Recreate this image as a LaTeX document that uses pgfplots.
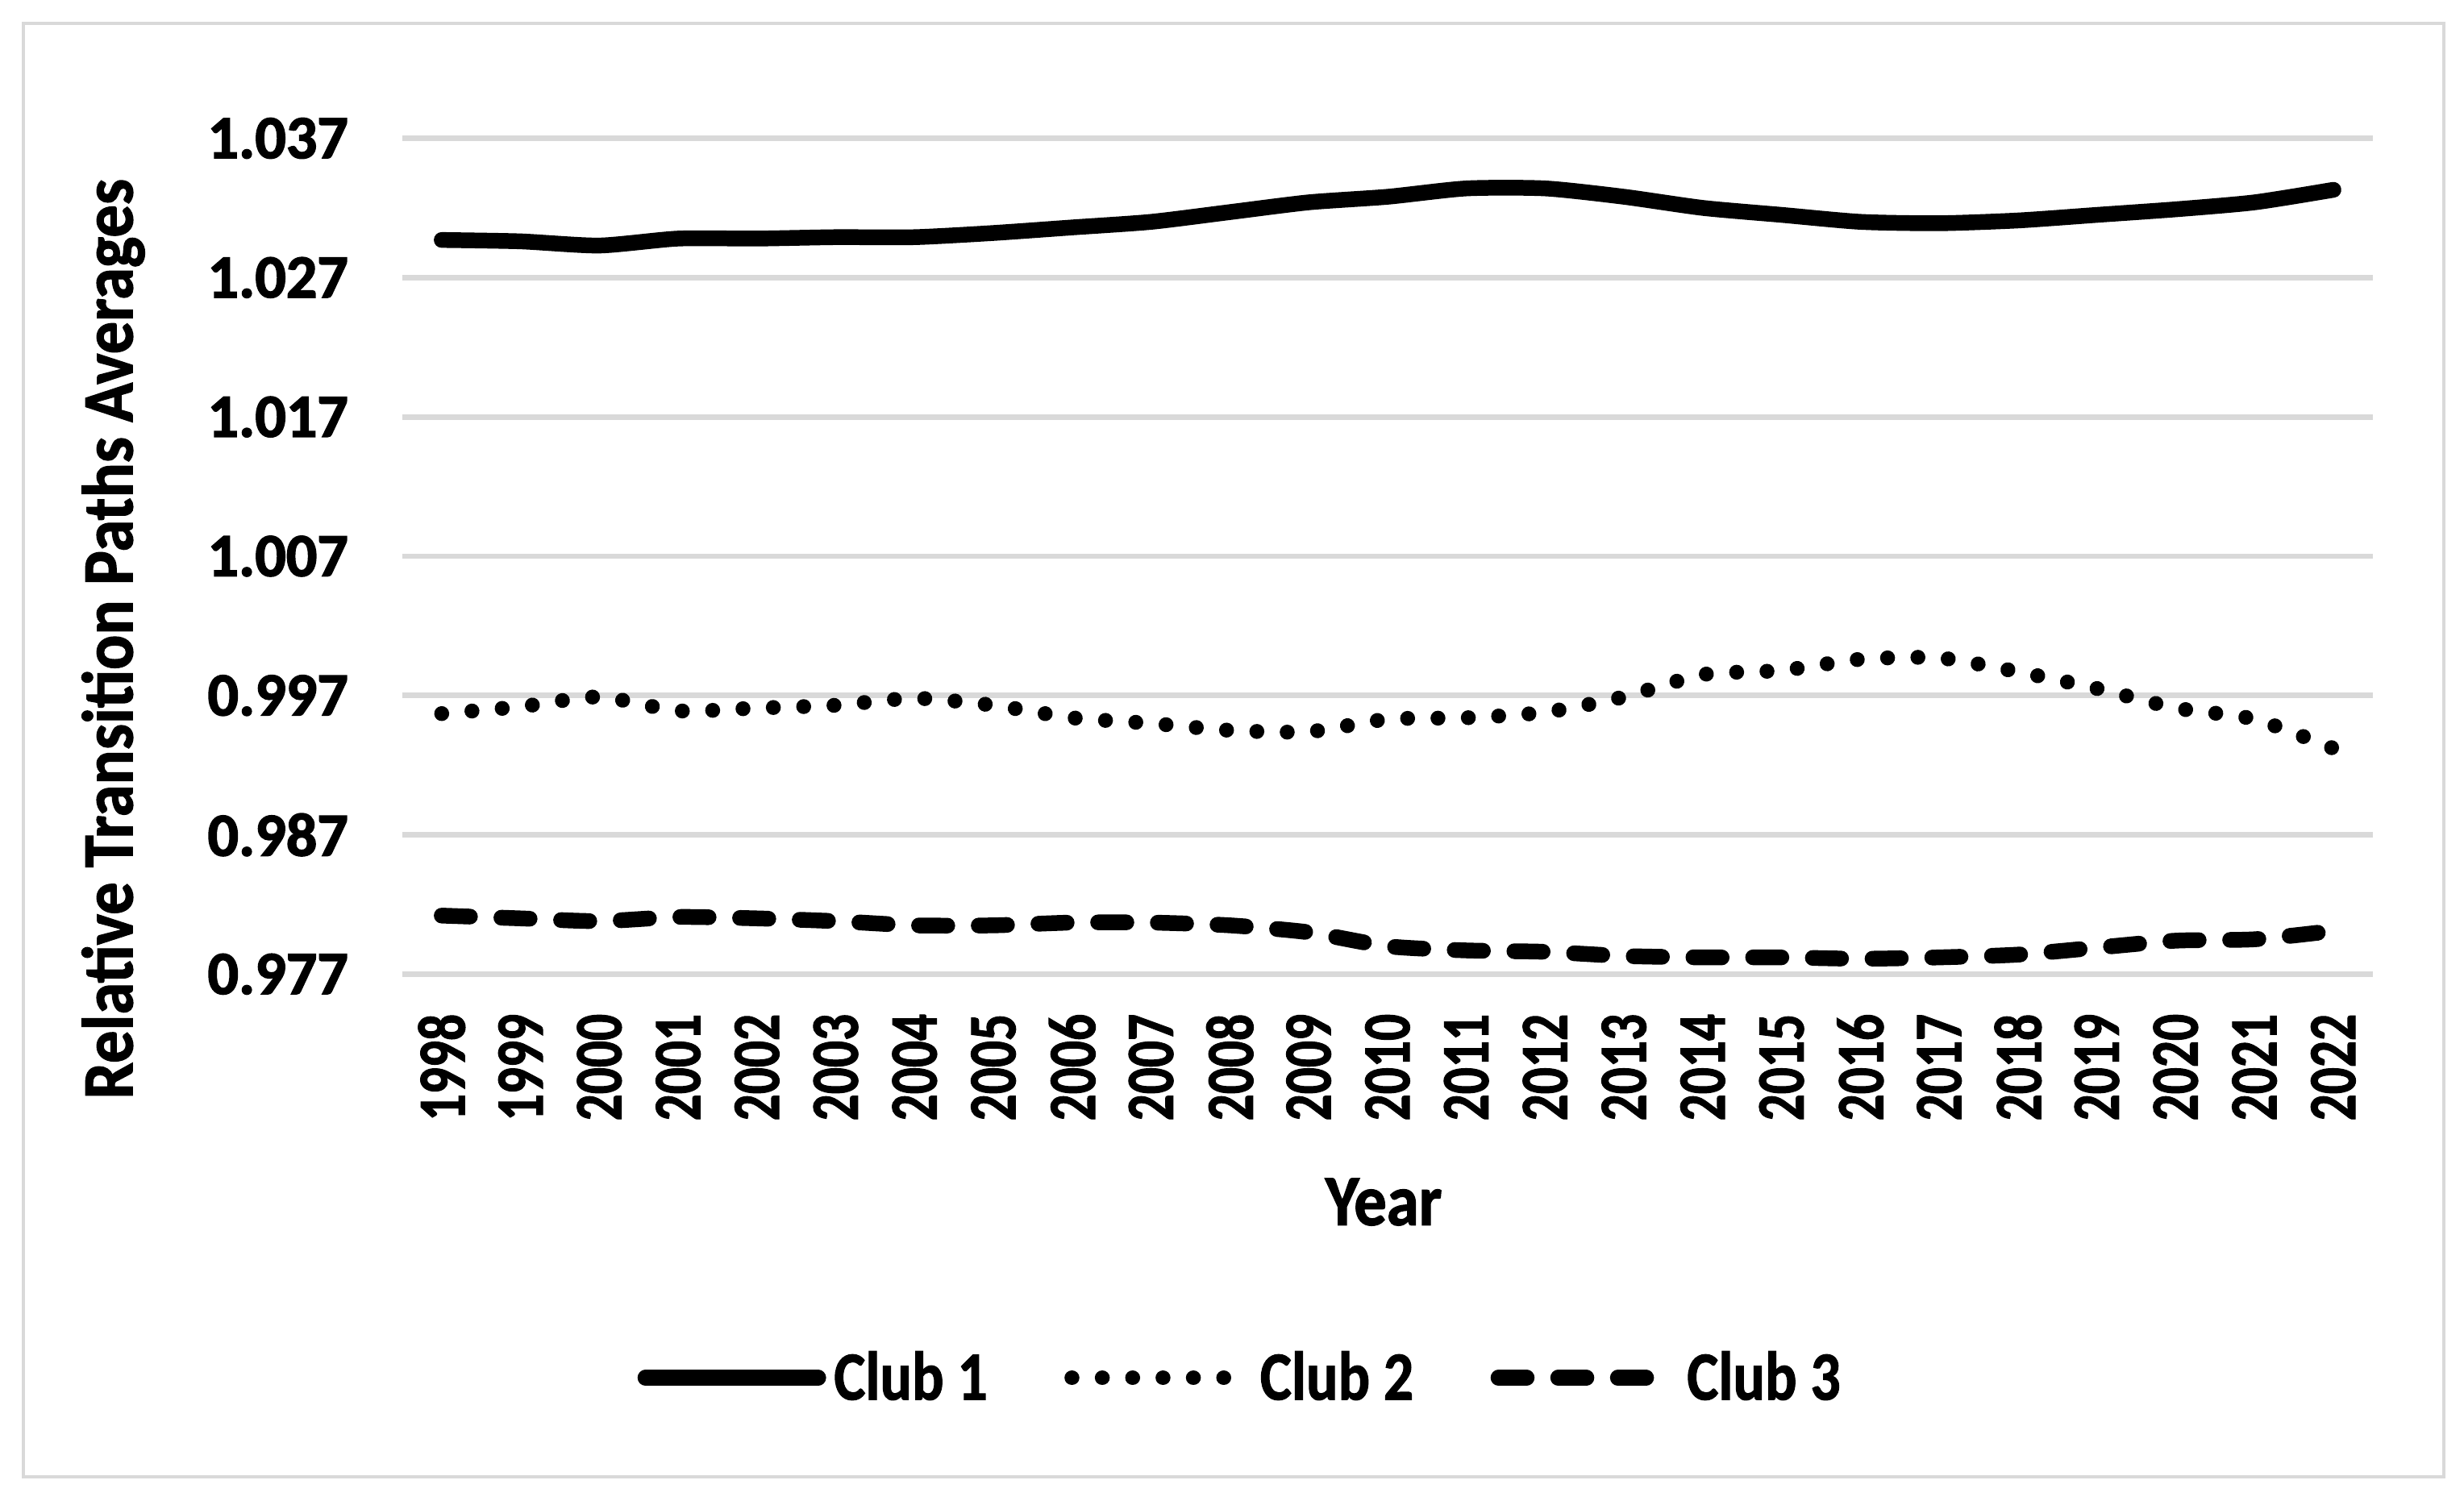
\documentclass[border=0pt]{standalone}
\usepackage{pgfplots}
\pgfplotsset{compat=1.18}
\usepackage{fontspec}
\setmainfont{Carlito}
\newfontfamily\ytickfont{Carlito Bold}[FakeBold=2]
\newfontfamily\xtickfont{Carlito Bold}[FakeStretch=0.78, FakeBold=1.2]
\newfontfamily\labelfont{Carlito Bold}[FakeStretch=0.9, FakeBold=1.4]
\newfontfamily\legfont{Carlito Bold}[FakeStretch=0.86, FakeBold=1.2]
\definecolor{gridgray}{HTML}{D9D9D9}
\pgfplotstableread{
year c1 c2 c3
1998 1.0297 0.9957 0.9812
1999 1.0296 0.9962 0.9810
2000 1.0293 0.9969 0.9808
2001 1.0298 0.9959 0.9811
2002 1.0298 0.9961 0.9810
2003 1.0299 0.9963 0.9808
2004 1.0299 0.9968 0.9805
2005 1.0302 0.9963 0.9805
2006 1.0306 0.9954 0.9807
2007 1.0310 0.9950 0.9807
2008 1.0317 0.9945 0.9805
2009 1.0324 0.9944 0.9800
2010 1.0328 0.9953 0.9790
2011 1.0334 0.9954 0.9787
2012 1.0334 0.9958 0.9786
2013 1.0328 0.9969 0.9783
2014 1.0320 0.9985 0.9782
2015 1.0315 0.9988 0.9782
2016 1.0310 0.9996 0.9781
2017 1.0309 0.9997 0.9782
2018 1.0311 0.9987 0.9784
2019 1.0315 0.9975 0.9789
2020 1.0319 0.9961 0.9794
2021 1.0324 0.9953 0.9795
2022 1.0333 0.9932 0.9801
}\datatable
\begin{document}
\begin{tikzpicture}
\path[use as bounding box] (0,0) rectangle (784pt,477.5pt);
\fill[white] (0,0) rectangle (784pt,477.5pt);
\draw[gridgray, line width=1.1pt] (7.5pt,7.5pt) rectangle (777.5pt,470pt);
\begin{axis}[
  at={(128pt,167.5pt)}, anchor=south west,
  scale only axis, width=627pt, height=266pt,
  xmin=1997.5, xmax=2022.5, ymin=0.977, ymax=1.037,
  xtick={1998,1999,...,2022},
  xticklabels={1998,1999,2000,2001,2002,2003,2004,2005,2006,2007,2008,2009,2010,2011,2012,2013,2014,2015,2016,2017,2018,2019,2020,2021,2022},
  ytick={0.977,0.987,0.997,1.007,1.017,1.027,1.037},
  yticklabels={0.977,0.987,0.997,1.007,1.017,1.027,1.037},
  major tick length=0pt,
  axis line style={draw=none},
  ymajorgrids, grid style={gridgray, line width=1.75pt},
  xticklabel style={font=\xtickfont\fontsize{21.5pt}{24pt}\selectfont, rotate=90, anchor=east, inner sep=0pt},
  xticklabel shift=12.5pt,
  yticklabel style={font=\ytickfont\fontsize{19.5pt}{22pt}\selectfont, anchor=east, inner sep=0pt},
  yticklabel shift=17pt,
  xlabel={Year},
  xlabel style={font=\labelfont\fontsize{23pt}{26pt}\selectfont, at={(axis description cs:0.498,-0.2726)}, anchor=center},
  ylabel={Relative Transition Paths Averages},
  ylabel style={font=\labelfont\fontsize{23pt}{26pt}\selectfont, at={(axis description cs:-0.1467,0.401)}, anchor=center},
  clip=false,
  legend columns=3,
  legend style={draw=none, fill=none, at={(axis description cs:0.4266,-0.483)}, anchor=center,
    font=\legfont\fontsize{22pt}{25pt}\selectfont,
    nodes={inner sep=2.5pt},
    /tikz/every even column/.append style={column sep=22pt}},
  legend image code/.code={\draw[#1] (0pt,0pt) -- (55pt,0pt);},
]
\addplot[black, line width=5pt, line cap=round, smooth, tension=0.4] table[x=year,y=c1] {\datatable};
\addlegendentry{Club 1}
\addplot[black, line width=4.75pt, line cap=round, dash pattern=on 0.01pt off 9.65pt, smooth, tension=0.4] table[x=year,y=c2] {\datatable};
\addlegendentry{Club 2}
\addplot[black, line width=5pt, line cap=round, dash pattern=on 9pt off 10pt, smooth, tension=0.4] table[x=year,y=c3] {\datatable};
\addlegendentry{Club 3}
\end{axis}
\end{tikzpicture}
\end{document}
